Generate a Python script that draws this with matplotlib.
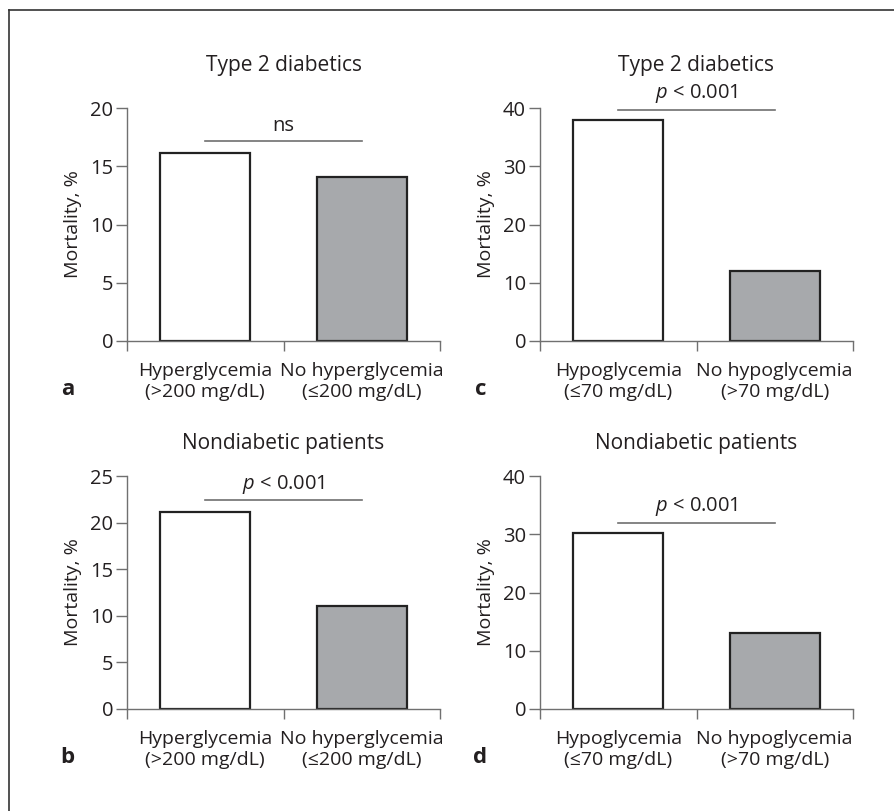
import matplotlib
matplotlib.use("Agg")
from matplotlib import pyplot as plt
from matplotlib.lines import Line2D

plt.rcParams['font.family'] = ['Open Sans', 'DejaVu Sans']
plt.rcParams['mathtext.fontset'] = 'custom'
plt.rcParams['mathtext.it'] = 'Open Sans:italic'
plt.rcParams['mathtext.rm'] = 'Open Sans'

# panel data (mortality, %)
hyper_labels = ["Hyperglycemia\n(>200 mg/dL)", "No hyperglycemia\n(\u2264200 mg/dL)"]
hypo_labels = ["Hypoglycemia\n(\u226470 mg/dL)", "No hypoglycemia\n(>70 mg/dL)"]
a_values = [16.1, 14.1]
b_values = [21.1, 11.1]
c_values = [38.0, 12.0]
d_values = [30.2, 13.1]
a_ticks = [0, 5, 10, 15, 20]
b_ticks = [0, 5, 10, 15, 20, 25]
cd_ticks = [0, 10, 20, 30, 40]

W, H = 895, 811
fig = plt.figure(figsize=(W / 100, H / 100), dpi=100)

# frame on top and left only
fig.add_artist(Line2D([9 / W, 9 / W], [0, 1 - 10 / H], color="#333333", lw=1.2))
fig.add_artist(Line2D([9 / W, 1], [1 - 10 / H, 1 - 10 / H], color="#333333", lw=1.2))

spine_col = "#707070"
text_col = "#231f20"


def panel(left_px, bottom_px, values, labels, yticks, title, title_px, sig, sig_y, letter):
    ax = fig.add_axes([left_px / W, 1 - bottom_px / H, 313 / W, 233 / H])
    ax.bar([0, 1], values, width=0.575, color=["white", "#a7a9ac"],
           edgecolor="#222222", linewidth=1.6, zorder=3)
    ax.set_xlim(-0.5, 1.5)
    ax.set_ylim(0, yticks[-1])
    ax.set_yticks(yticks)
    ax.set_xticks([0, 1])
    ax.set_xticklabels(labels, fontsize=14, color=text_col, linespacing=1.2)
    ax.tick_params(axis="x", length=0, pad=15)
    ax.set_xticks([-0.5, 0.5, 1.5], minor=True)
    ax.tick_params(axis="x", which="minor", length=7, width=1, color=spine_col, direction="out")
    ax.tick_params(axis="y", length=8, width=1, color=spine_col, labelsize=14.5,
                   labelcolor=text_col, pad=2)
    for s in ["top", "right"]:
        ax.spines[s].set_visible(False)
    for s in ["left", "bottom"]:
        ax.spines[s].set_color(spine_col)
        ax.spines[s].set_linewidth(1)
    ax.spines["bottom"].set_zorder(4)
    ax.set_ylabel("Mortality, %", fontsize=14, color=text_col, labelpad=6)

    top = yticks[-1]
    ax.plot([0, 1], [sig_y, sig_y], color=spine_col, lw=1.2, clip_on=False)
    ax.text(0.5, sig_y + top * 0.02, sig, ha="center", va="bottom", fontsize=14.5,
            color=text_col, clip_on=False)
    ax.text(0.5, (bottom_px - title_px) / 233, title, transform=ax.transAxes,
            ha="center", va="center", fontsize=15, color=text_col)
    ax.text(-0.19, -0.21, letter, transform=ax.transAxes, ha="center", va="center",
            fontsize=16, fontweight="bold", color=text_col)
    return ax


panel(127, 341, a_values, hyper_labels, a_ticks, "Type 2 diabetics", 65, "ns", 17.2, "a")
panel(540, 341, c_values, hypo_labels, cd_ticks, "Type 2 diabetics", 65,
      "$p$ < 0.001", 39.7, "c")
panel(127, 709, b_values, hyper_labels, b_ticks, "Nondiabetic patients", 443,
      "$p$ < 0.001", 22.4, "b")
panel(540, 709, d_values, hypo_labels, cd_ticks, "Nondiabetic patients", 443,
      "$p$ < 0.001", 32.0, "d")

fig.savefig("out.png", dpi=100)
